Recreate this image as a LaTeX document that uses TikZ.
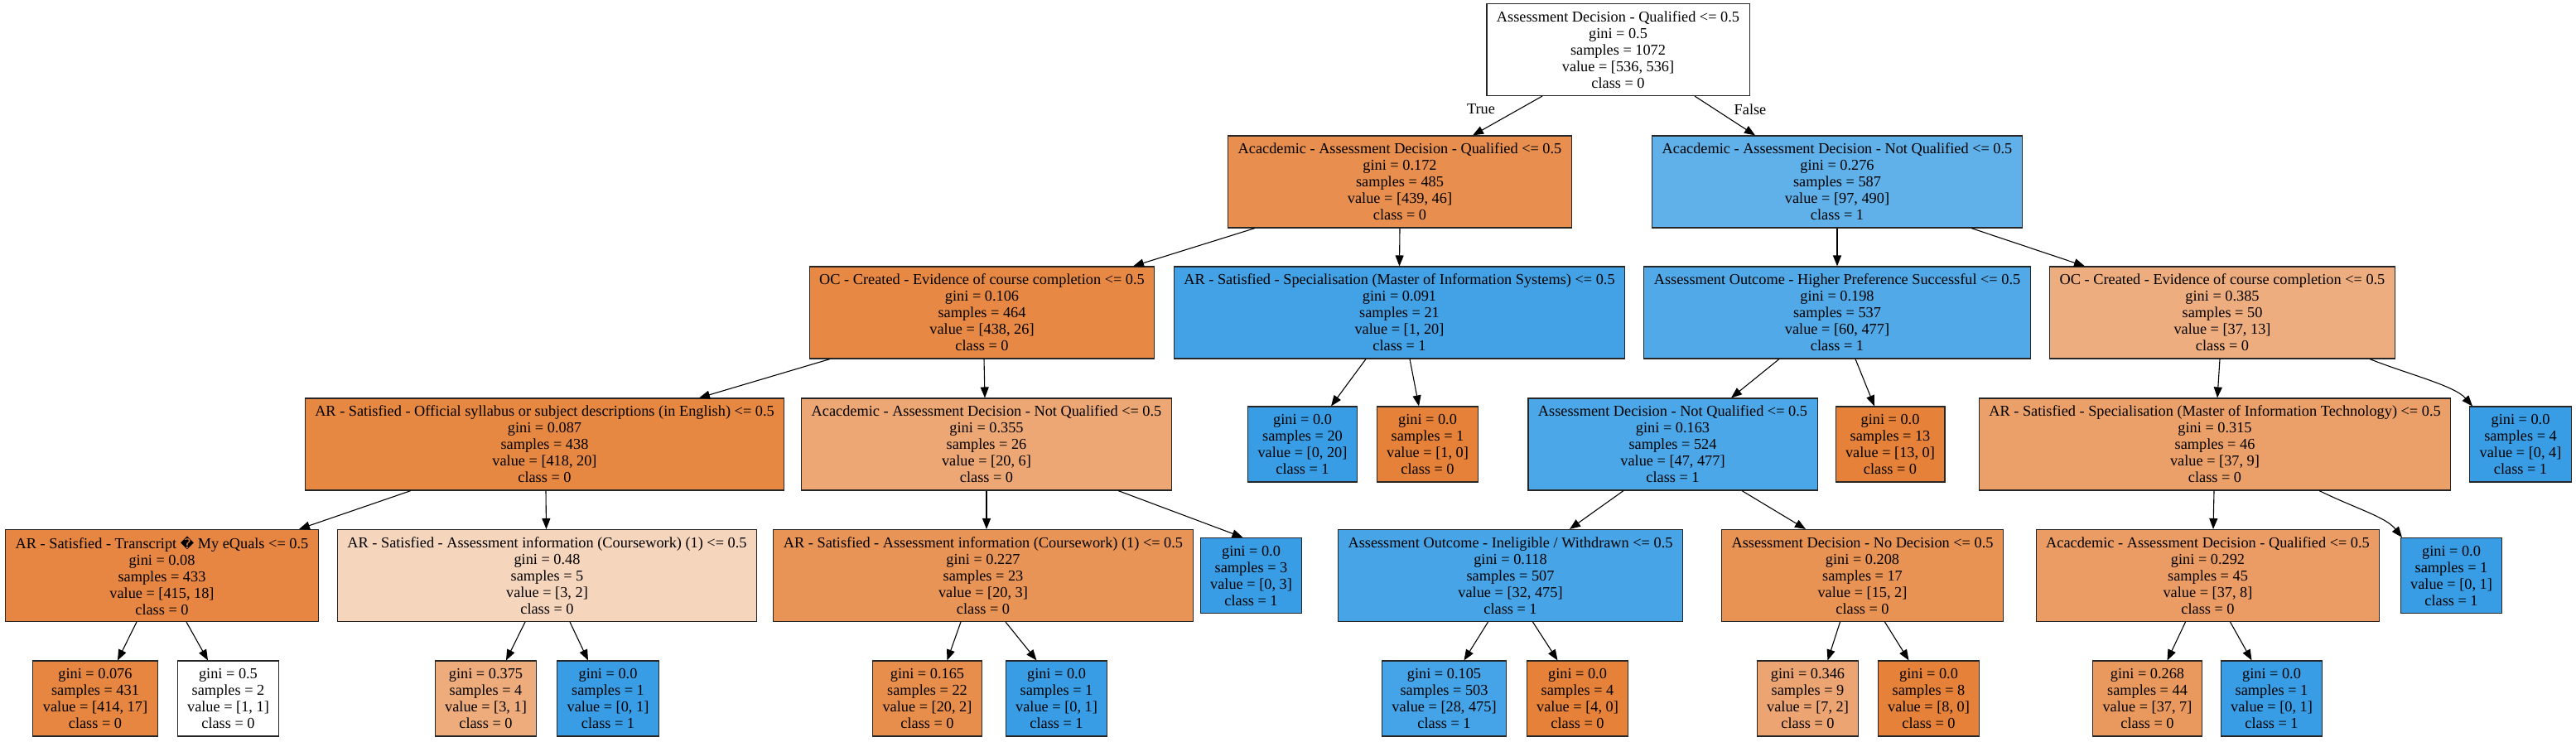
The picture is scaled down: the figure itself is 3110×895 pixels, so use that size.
\documentclass[tikz,border=0pt]{standalone}
\usepackage{fontspec}
\setmainfont{Liberation Serif}
\newfontfamily\symfont{DejaVu Sans}
\usetikzlibrary{arrows.meta}
\definecolor{cWhite}{RGB}{255,255,255}
\definecolor{cO}{RGB}{229,129,57}
\definecolor{cB}{RGB}{57,157,229}
\definecolor{cA}{RGB}{232,142,78}
\definecolor{cBb}{RGB}{96,176,234}
\definecolor{cC}{RGB}{231,137,69}
\definecolor{cD}{RGB}{67,162,230}
\definecolor{cE}{RGB}{82,169,232}
\definecolor{cF}{RGB}{238,173,127}
\definecolor{cG}{RGB}{230,135,66}
\definecolor{cH}{RGB}{237,167,116}
\definecolor{cK}{RGB}{76,167,232}
\definecolor{cM}{RGB}{235,160,105}
\definecolor{cOo}{RGB}{230,134,66}
\definecolor{cP}{RGB}{246,213,189}
\definecolor{cQ}{RGB}{233,148,87}
\definecolor{cS}{RGB}{70,164,231}
\definecolor{cT}{RGB}{232,146,83}
\definecolor{cU}{RGB}{235,156,100}
\definecolor{cL1}{RGB}{230,134,65}
\definecolor{cL3}{RGB}{238,171,123}
\definecolor{cL5}{RGB}{232,142,77}
\definecolor{cL7}{RGB}{69,163,231}
\definecolor{cL9}{RGB}{236,165,114}
\definecolor{cL11}{RGB}{234,153,94}
\begin{document}
\begin{tikzpicture}[x=1pt,y=-1pt,
  box/.style={draw=black!85, line width=1.1pt, align=center, inner ysep=0pt, inner xsep=12pt,
    font=\fontsize{18.3}{20}\selectfont, minimum height=111pt},
  leaf/.style={box, minimum height=91pt},
  edge/.style={line width=1.1pt, -{Triangle[length=13pt,width=10pt]}},
  lab/.style={font=\fontsize{18.3}{20}\selectfont, inner sep=0pt}]
\useasboundingbox (0,0) rectangle (3110,895);
% level 0
\node[box, fill=cWhite] (root) at (1953.5,60) {Assessment Decision - Qualified <= 0.5\\gini = 0.5\\samples = 1072\\value = [536, 536]\\class = 0};
% level 1
\node[box, fill=cA] (A) at (1690,219.5) {Acacdemic - Assessment Decision - Qualified <= 0.5\\gini = 0.172\\samples = 485\\value = [439, 46]\\class = 0};
\node[box, fill=cBb] (B) at (2218,219.5) {Acacdemic - Assessment Decision - Not Qualified <= 0.5\\gini = 0.276\\samples = 587\\value = [97, 490]\\class = 1};
% level 2
\node[box, fill=cC] (C) at (1185.5,377.5) {OC - Created - Evidence of course completion <= 0.5\\gini = 0.106\\samples = 464\\value = [438, 26]\\class = 0};
\node[box, fill=cD] (D) at (1689.5,377.5) {AR - Satisfied - Specialisation (Master of Information Systems) <= 0.5\\gini = 0.091\\samples = 21\\value = [1, 20]\\class = 1};
\node[box, fill=cE] (E) at (2218,377.5) {Assessment Outcome - Higher Preference Successful <= 0.5\\gini = 0.198\\samples = 537\\value = [60, 477]\\class = 1};
\node[box, fill=cF] (F) at (2683,377.5) {OC - Created - Evidence of course completion <= 0.5\\gini = 0.385\\samples = 50\\value = [37, 13]\\class = 0};
% level 3
\node[box, fill=cG] (G) at (657.5,536.5) {AR - Satisfied - Official syllabus or subject descriptions (in English) <= 0.5\\gini = 0.087\\samples = 438\\value = [418, 20]\\class = 0};
\node[box, fill=cH] (H) at (1191,536.5) {Acacdemic - Assessment Decision - Not Qualified <= 0.5\\gini = 0.355\\samples = 26\\value = [20, 6]\\class = 0};
\node[leaf, fill=cB] (I) at (1572.5,536.5) {gini = 0.0\\samples = 20\\value = [0, 20]\\class = 1};
\node[leaf, fill=cO] (J) at (1723.5,536.5) {gini = 0.0\\samples = 1\\value = [1, 0]\\class = 0};
\node[box, fill=cK] (K) at (2019.5,536.5) {Assessment Decision - Not Qualified <= 0.5\\gini = 0.163\\samples = 524\\value = [47, 477]\\class = 1};
\node[leaf, fill=cO] (L) at (2282,536.5) {gini = 0.0\\samples = 13\\value = [13, 0]\\class = 0};
\node[box, fill=cM] (M) at (2674,536.5) {AR - Satisfied - Specialisation (Master of Information Technology) <= 0.5\\gini = 0.315\\samples = 46\\value = [37, 9]\\class = 0};
\node[leaf, fill=cB] (N) at (3043,536.5) {gini = 0.0\\samples = 4\\value = [0, 4]\\class = 1};
% level 4
\node[box, fill=cOo] (O) at (195.5,695) {AR - Satisfied - Transcript {\symfont\fontsize{16}{20}\selectfont \char"FFFD} My eQuals <= 0.5\\gini = 0.08\\samples = 433\\value = [415, 18]\\class = 0};
\node[box, fill=cP] (P) at (660.5,695) {AR - Satisfied - Assessment information (Coursework) (1) <= 0.5\\gini = 0.48\\samples = 5\\value = [3, 2]\\class = 0};
\node[box, fill=cQ] (Q) at (1187,695) {AR - Satisfied - Assessment information (Coursework) (1) <= 0.5\\gini = 0.227\\samples = 23\\value = [20, 3]\\class = 0};
\node[leaf, fill=cB] (R) at (1510.5,695) {gini = 0.0\\samples = 3\\value = [0, 3]\\class = 1};
\node[box, fill=cS] (S) at (1823.5,695) {Assessment Outcome - Ineligible / Withdrawn <= 0.5\\gini = 0.118\\samples = 507\\value = [32, 475]\\class = 1};
\node[box, fill=cT] (T) at (2248.5,695) {Assessment Decision - No Decision <= 0.5\\gini = 0.208\\samples = 17\\value = [15, 2]\\class = 0};
\node[box, fill=cU] (U) at (2665.5,695) {Acacdemic - Assessment Decision - Qualified <= 0.5\\gini = 0.292\\samples = 45\\value = [37, 8]\\class = 0};
\node[leaf, fill=cB] (V) at (2959.5,695) {gini = 0.0\\samples = 1\\value = [0, 1]\\class = 1};
% level 5
\node[leaf, fill=cL1] (L1) at (115,843.5) {gini = 0.076\\samples = 431\\value = [414, 17]\\class = 0};
\node[leaf, fill=cWhite] (L2) at (275.5,843.5) {gini = 0.5\\samples = 2\\value = [1, 1]\\class = 0};
\node[leaf, fill=cL3] (L3) at (586.5,843.5) {gini = 0.375\\samples = 4\\value = [3, 1]\\class = 0};
\node[leaf, fill=cB] (L4) at (734,843.5) {gini = 0.0\\samples = 1\\value = [0, 1]\\class = 1};
\node[leaf, fill=cL5] (L5) at (1119.5,843.5) {gini = 0.165\\samples = 22\\value = [20, 2]\\class = 0};
\node[leaf, fill=cB] (L6) at (1275.5,843.5) {gini = 0.0\\samples = 1\\value = [0, 1]\\class = 1};
\node[leaf, fill=cL7] (L7) at (1743.5,843.5) {gini = 0.105\\samples = 503\\value = [28, 475]\\class = 1};
\node[leaf, fill=cO] (L8) at (1904.5,843.5) {gini = 0.0\\samples = 4\\value = [4, 0]\\class = 0};
\node[leaf, fill=cL9] (L9) at (2182.5,843.5) {gini = 0.346\\samples = 9\\value = [7, 2]\\class = 0};
\node[leaf, fill=cO] (L10) at (2328.5,843.5) {gini = 0.0\\samples = 8\\value = [8, 0]\\class = 0};
\node[leaf, fill=cL11] (L11) at (2592.5,843.5) {gini = 0.268\\samples = 44\\value = [37, 7]\\class = 0};
\node[leaf, fill=cB] (L12) at (2742.5,843.5) {gini = 0.0\\samples = 1\\value = [0, 1]\\class = 1};
% labels
\node[lab] (tru) at (1788,132) {True};
\node[lab] (fal) at (2113,132) {False};
% edges
\draw[edge] ([xshift=-91.5pt]root.south) -- ([xshift=88pt]A.north);
\draw[edge] ([xshift=92.5pt]root.south) -- ([xshift=-99pt]B.north);
\draw[edge] ([xshift=-175pt]A.south) -- ([xshift=182.5pt]C.north);
\draw[edge] (A.south) -- (D.north);
\draw[edge] (B.south) -- (E.north);
\draw[edge] ([xshift=162pt]B.south) -- ([xshift=-166pt]F.north);
\draw[edge] ([xshift=-183.5pt]C.south) -- ([xshift=186.5pt]G.north);
\draw[edge] ([xshift=2.5pt]C.south) -- ([xshift=-2pt]H.north);
\draw[edge] ([xshift=-40.5pt]D.south) -- ([xshift=34.5pt]I.north);
\draw[edge] ([xshift=12.5pt]D.south) -- ([xshift=-10.5pt]J.north);
\draw[edge] ([xshift=-70pt]E.south) -- ([xshift=70.5pt]K.north);
\draw[edge] ([xshift=22pt]E.south) -- ([xshift=-19pt]L.north);
\draw[edge] ([xshift=-3pt]F.south) -- ([xshift=3pt]M.north);
\draw[edge] ([xshift=178pt]F.south) .. controls +(45,18) and +(-22,-25) .. ([xshift=-58pt]N.north);
\draw[edge] ([xshift=-161.5pt]G.south) -- ([xshift=165.5pt]O.north);
\draw[edge] ([xshift=1.5pt]G.south) -- ([xshift=-1pt]P.north);
\draw[edge] (H.south) -- ([xshift=4pt]Q.north);
\draw[edge] ([xshift=159pt]H.south) -- ([xshift=-10pt]R.north);
\draw[edge] ([xshift=-59.5pt]K.south) -- ([xshift=71.5pt]S.north);
\draw[edge] ([xshift=83.5pt]K.south) -- ([xshift=-68.5pt]T.north);
\draw[edge] ([xshift=-1pt]M.south) -- ([xshift=6.5pt]U.north);
\draw[edge] ([xshift=126pt]M.south) .. controls +(45,22) and +(-20,-25) .. ([xshift=-59.5pt]V.north);
\draw[edge] ([xshift=-30.5pt]O.south) -- ([xshift=27pt]L1.north);
\draw[edge] ([xshift=29.5pt]O.south) -- ([xshift=-24.5pt]L2.north);
\draw[edge] ([xshift=-26.5pt]P.south) -- ([xshift=24.5pt]L3.north);
\draw[edge] ([xshift=27.5pt]P.south) -- ([xshift=-24pt]L4.north);
\draw[edge] ([xshift=-27pt]Q.south) -- ([xshift=24pt]L5.north);
\draw[edge] ([xshift=27pt]Q.south) -- ([xshift=-24pt]L6.north);
\draw[edge] ([xshift=-27pt]S.south) -- ([xshift=24pt]L7.north);
\draw[edge] ([xshift=27pt]S.south) -- ([xshift=-24pt]L8.north);
\draw[edge] ([xshift=-27pt]T.south) -- ([xshift=24pt]L9.north);
\draw[edge] ([xshift=27pt]T.south) -- ([xshift=-24pt]L10.north);
\draw[edge] ([xshift=-27pt]U.south) -- ([xshift=24pt]L11.north);
\draw[edge] ([xshift=27pt]U.south) -- ([xshift=-24pt]L12.north);
\end{tikzpicture}
\end{document}
